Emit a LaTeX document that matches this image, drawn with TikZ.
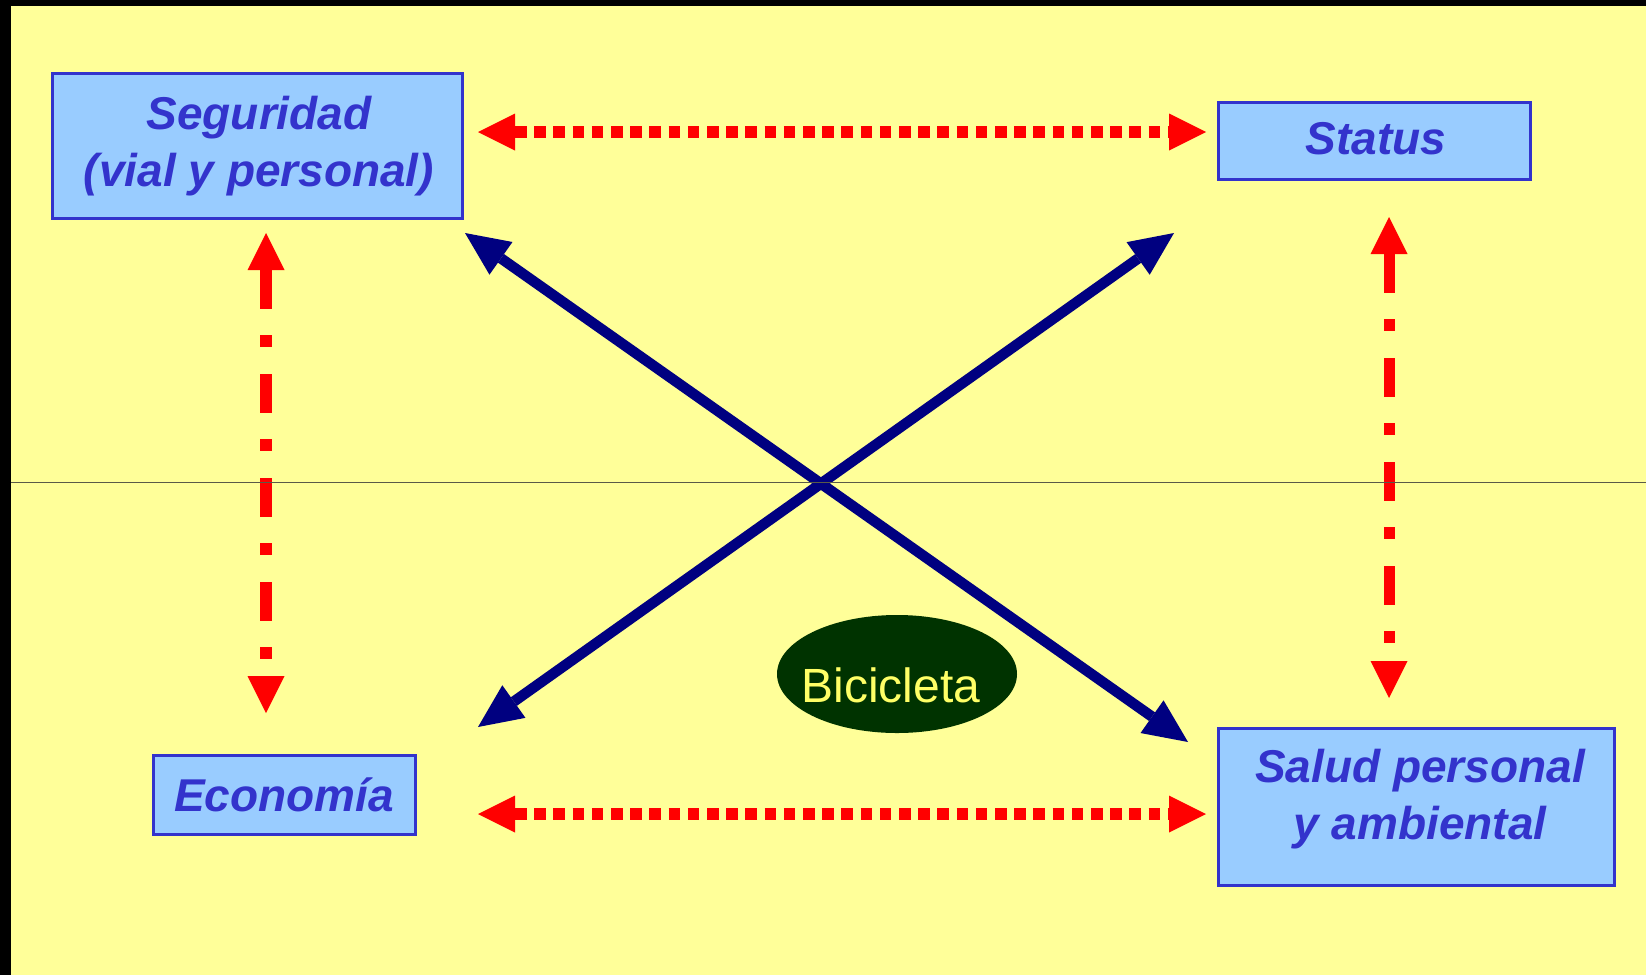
\documentclass[tikz,border=0pt]{standalone}
\usepackage{fontspec}
\setmainfont{Liberation Sans}
\usetikzlibrary{arrows.meta,shapes.geometric}
\definecolor{bg}{HTML}{FFFF99}
\definecolor{boxfill}{HTML}{99CCFF}
\definecolor{boxline}{HTML}{3333CC}
\definecolor{navyblue}{HTML}{000080}
\definecolor{bikegreen}{HTML}{003300}
\definecolor{bikeyellow}{HTML}{FFFF66}
\definecolor{rulecol}{HTML}{5A5A48}
\definecolor{redarr}{HTML}{FF0000}
\begin{document}
\begin{tikzpicture}[x=1pt,y=-1pt,
  box/.style={draw=boxline, fill=boxfill, line width=3pt, inner sep=0pt},
  lbl/.style={text=boxline, font=\fontsize{46}{57}\selectfont\bfseries\itshape, inner sep=0pt, align=center},
  redtip/.tip={Triangle[length=37pt,width=37pt,line width=0pt]},
  bluetip/.tip={Triangle[length=44pt,width=40pt,line width=0pt]},
  reddot/.style={draw=redarr, line width=11.5pt, dash pattern=on 11.5pt off 7.7pt, {redtip}-{redtip}},
  reddash/.style={draw=redarr, dash pattern=on 39pt off 26pt on 12pt off 27pt, {redtip}-{redtip}},
  bluearrow/.style={draw=navyblue, line width=10.5pt, {bluetip}-{bluetip}}
]
\useasboundingbox (0,0) rectangle (1646,975);
\fill[bg] (0,0) rectangle (1646,975);
\fill[black] (0,0) rectangle (11,975);
\fill[black] (0,0) rectangle (1646,6);

% boxes
\node[box, minimum width=410pt, minimum height=145pt] (seg) at (257,145.5) {};
\node[lbl, anchor=north] (segT) at (259,96) {Seguridad\\(vial y personal)};
\node[box, minimum width=312pt, minimum height=77pt] (sta) at (1374,140.5) {};
\node[lbl, anchor=base] (staT) at (1376,154) {Status};
\node[box, minimum width=262pt, minimum height=79pt] (eco) at (284,794.5) {};
\node[lbl, anchor=base] (ecoT) at (284,811) {Economía};
\node[box, minimum width=396pt, minimum height=157pt] (sal) at (1416,806.5) {};
\node[lbl, anchor=north] (salT) at (1420,749) {Salud personal\\y ambiental};

% bicycle
\node[ellipse, fill=bikegreen, minimum width=240pt, minimum height=118pt, inner sep=0pt] (bike) at (897,674) {};
\node[text=bikeyellow, font=\fontsize{48}{58}\selectfont, anchor=base, inner sep=0pt] (bikeT) at (891,702) {Bicicleta};

% arrow end points
\coordinate (rtA) at (478,132);  \coordinate (rtB) at (1206,132);
\coordinate (rbA) at (478,814);  \coordinate (rbB) at (1206,814);
\coordinate (rlA) at (266,233);  \coordinate (rlB) at (266,713);
\coordinate (rrA) at (1389,217); \coordinate (rrB) at (1389,698);
\coordinate (b1A) at (465,233);  \coordinate (b1B) at (1188,742);
\coordinate (b2A) at (478,727);  \coordinate (b2B) at (1174,233);

\draw[reddot] (rtA) -- (rtB);
\draw[reddot] (rbA) -- (rbB);
\draw[reddash, line width=12pt] (rlA) -- (rlB);
\draw[reddash, line width=11pt] (rrA) -- (rrB);
\draw[bluearrow] (b1A) -- (b1B);
\draw[bluearrow] (b2A) -- (b2B);

% thin horizontal rule
\draw[rulecol, line width=1pt] (11,482) -- (1646,482);
\end{tikzpicture}
\end{document}
